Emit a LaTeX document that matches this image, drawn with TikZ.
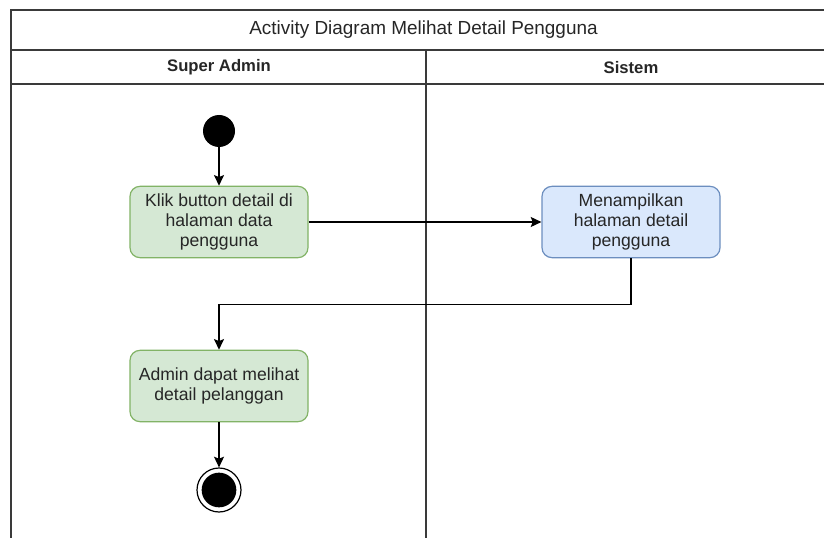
\documentclass[tikz,border=0pt]{standalone}
\usepackage{fontspec}
\setmainfont{Liberation Sans}
\usetikzlibrary{arrows.meta}
\definecolor{greenfill}{HTML}{D5E8D4}
\definecolor{greenline}{HTML}{82B366}
\definecolor{bluefill}{HTML}{DAE8FC}
\definecolor{blueline}{HTML}{6C8EBF}
\definecolor{laneline}{HTML}{3A3A3A}
\definecolor{txt}{HTML}{262626}
\begin{document}
\begin{tikzpicture}[x=0.75pt,y=-0.75pt,
  lane/.style={draw=laneline,line width=1.5pt},
  action/.style={rectangle,rounded corners=7.5pt,line width=0.9pt,align=center,
    minimum width=133.5pt,minimum height=53.5pt,inner sep=2pt,text=txt,
    font=\fontsize{13.2pt}{15pt}\selectfont},
  useract/.style={action,fill=greenfill,draw=greenline},
  sysact/.style={action,fill=bluefill,draw=blueline},
  startnode/.style={circle,fill=black,minimum size=24pt,inner sep=0pt},
  endnode/.style={circle,draw=black,line width=0.9pt,fill=white,minimum size=33pt,inner sep=0pt,
    path picture={\fill[black] (path picture bounding box.center) circle[radius=13pt];}},
  flow/.style={draw=black,line width=1.1pt,-{Stealth[length=8pt,width=7.5pt,inset=1.5pt]}}
]
\useasboundingbox (0,0) rectangle (824,538);
\fill[white] (0,0) rectangle (824,538);
\begin{scope}
  \clip (0,0) rectangle (824,538);
  % swimlane frame
  \draw[lane] (11,600) -- (11,10) -- (836,10) -- (836,600);
  \draw[lane] (11,50) -- (836,50);
  \draw[lane] (11,84) -- (836,84);
  \draw[lane] (426,50) -- (426,600);
\end{scope}
% lane headings
\node[text=txt,font=\fontsize{14.2pt}{16pt}\selectfont] (title) at (423.5,30) {Activity Diagram Melihat Detail Pengguna};
\node[text=txt,font=\fontsize{12.5pt}{15pt}\selectfont\bfseries] (laneA) at (219,67.5) {Super Admin};
\node[text=txt,font=\fontsize{12.5pt}{15pt}\selectfont\bfseries] (laneB) at (631,67.5) {Sistem};
% activities
\node[startnode] (start) at (219,131) {};
\node[useract] (a1) at (219,222) {Klik button detail di\\halaman data\\pengguna};
\node[sysact] (a2) at (631,222) {Menampilkan\\halaman detail\\pengguna};
\node[useract] (a3) at (219,386) {Admin dapat melihat\\detail pelanggan};
\node[endnode] (end) at (219,490) {};
% control flow
\draw[flow] (start) -- (a1);
\draw[flow] (a1) -- (a2);
\draw[flow] (a2.south) -- ++(0,46) -| (a3.north);
\draw[flow] (a3) -- (end);
\end{tikzpicture}
\end{document}
